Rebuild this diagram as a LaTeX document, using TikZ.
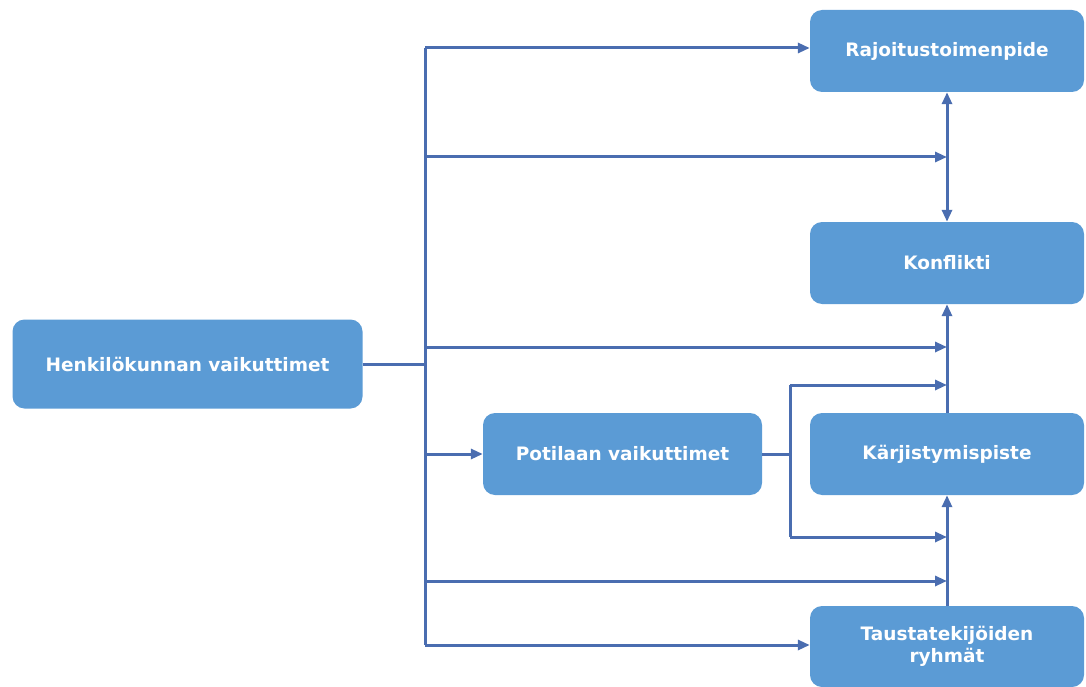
\documentclass[tikz,border=0pt]{standalone}
\usepackage{fontspec}
\setmainfont{DejaVu Sans}
\usetikzlibrary{arrows.meta}
\definecolor{boxblue}{HTML}{5B9BD5}
\definecolor{lineblue}{HTML}{4A6DB0}
\tikzset{
  box/.style={fill=boxblue, rounded corners=12pt, text=white, font=\fontsize{18.5}{22}\selectfont\bfseries, align=center, inner sep=0pt},
  conn/.style={draw=lineblue, line width=3pt},
  arr/.style={conn, -{Triangle[length=12pt,width=10pt]}},
  darr/.style={conn, {Triangle[length=12pt,width=10pt]}-{Triangle[length=12pt,width=10pt]}}
}
\begin{document}
\begin{tikzpicture}[x=1pt,y=-1pt]
\useasboundingbox (0,0) rectangle (1086,687);
\node[box, minimum width=274pt, minimum height=82pt] (raj) at (947,51) {Rajoitustoimenpide};
\node[box, minimum width=274pt, minimum height=82pt] (kon) at (947,263) {Konflikti};
\node[box, minimum width=274pt, minimum height=82pt] (kar) at (947,454) {Kärjistymispiste};
\node[box, minimum width=274pt, minimum height=81pt] (tau) at (947,646.5) {Taustatekijöiden\\ryhmät};
\node[box, minimum width=350pt, minimum height=89pt] (hen) at (187.5,364) {Henkilökunnan vaikuttimet};
\node[box, minimum width=279pt, minimum height=82pt] (pot) at (622.5,454) {Potilaan vaikuttimet};
% trunk
\coordinate (tA) at (425,48);
\coordinate (tB) at (425,157);
\coordinate (tC) at (425,347);
\coordinate (tD) at (425,454);
\coordinate (tE) at (425,581);
\coordinate (tF) at (425,645);
\coordinate (hj) at (425,364);
\draw[conn] (tA) -- (tF);
\draw[conn] (hen.east |- hj) -- (hj);
\draw[arr] (tA) -- (raj.west |- tA);
\draw[arr] (tB) -- (raj.south |- tB);
\draw[arr] (tC) -- (raj.south |- tC);
\draw[arr] (tD) -- (pot.west |- tD);
\draw[arr] (tE) -- (raj.south |- tE);
\draw[arr] (tF) -- (tau.west |- tF);
% spine
\draw[darr] (raj.south) -- (kon.north);
\draw[arr] (kar.north) -- (kon.south);
\draw[arr] (tau.north) -- (kar.south);
% Potilaan branch
\coordinate (pA) at (790,385);
\coordinate (pB) at (790,537);
\draw[conn] (pot.east) -- (pot.east -| pA);
\draw[conn] (pA) -- (pB);
\draw[arr] (pA) -- (raj.south |- pA);
\draw[arr] (pB) -- (raj.south |- pB);
\end{tikzpicture}
\end{document}
